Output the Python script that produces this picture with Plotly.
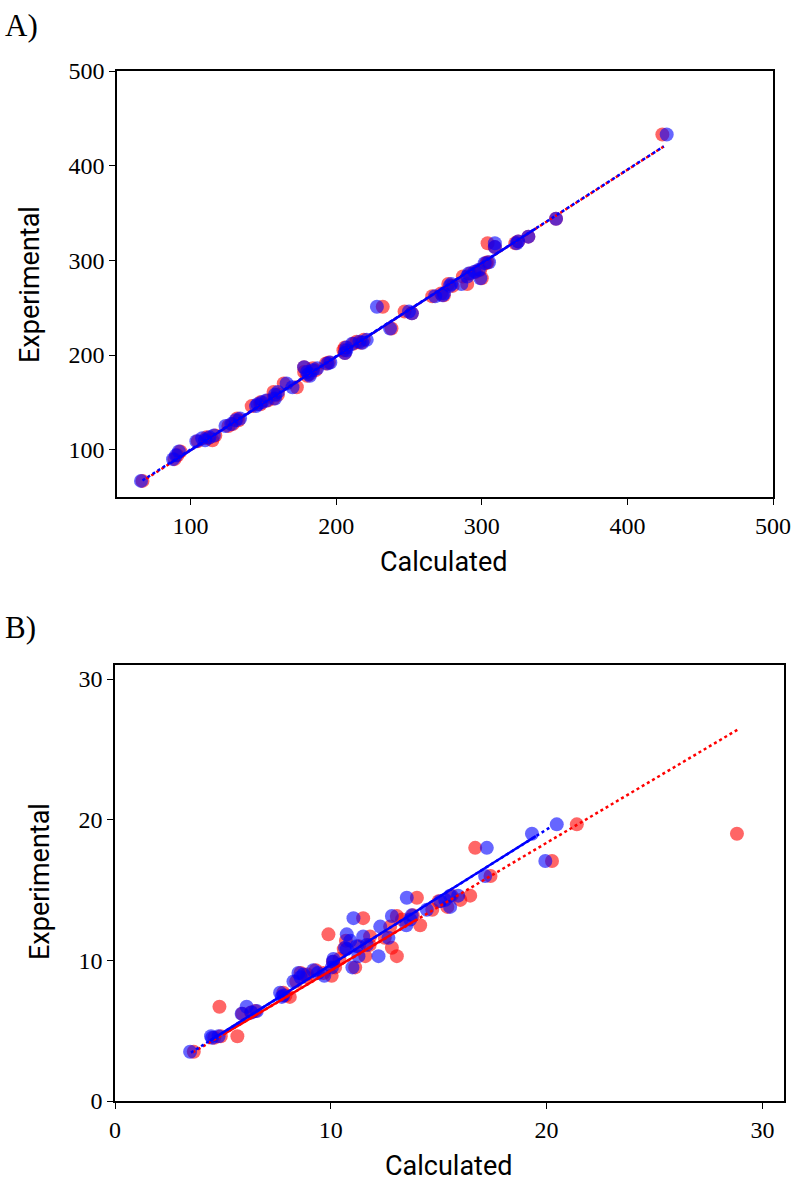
import plotly.graph_objects as go

# ---------------- Panel A data ----------------
a_exp = [67, 90, 94, 98, 109, 110, 112, 113, 115, 125, 127, 131, 133, 146, 148, 150, 152, 154, 161, 158,
         170, 166, 187, 182, 180, 178, 184, 186, 191, 192, 202, 205, 208, 212, 214, 213, 216, 251, 228, 246,
         244, 262, 263, 265, 275, 273, 275, 283, 286, 288, 281, 290, 297, 298, 318, 314, 318, 320, 325, 344, 433]
a_red = [67, 89, 91, 93, 105, 115, 112, 111, 117, 126, 129, 133, 132, 142, 148, 148, 153, 157, 157, 160,
         164, 173, 178, 178, 182, 180, 186, 184, 193, 195, 206, 205, 206, 212, 214, 217, 219, 232, 238, 247,
         252, 266, 274, 272, 277, 280, 290, 287, 292, 296, 300, 299, 303, 304, 304, 309, 323, 325, 332, 351, 424]
a_blue = [66, 88, 90, 92, 104, 110, 108, 113, 116, 124, 128, 131, 134, 145, 146, 149, 152, 158, 160, 158,
          166, 170, 178, 180, 181, 182, 184, 187, 194, 196, 206, 207, 207, 211, 216, 218, 221, 228, 237, 250,
          252, 268, 273, 274, 279, 278, 286, 290, 291, 295, 299, 298, 302, 305, 309, 309, 324, 325, 332, 351, 427]

# fit-line segments (endpoints)
a_red_dot_x = [69.6, 425.3]
a_red_dot_y = [69.3, 420.6]
a_blue_dot_x = [67.0, 425.0]
a_blue_dot_y = [67.5, 420.4]
a_blue_solid_x = [86.0, 337.0]
a_blue_solid_y = [85.5, 333.5]

# ---------------- Panel B data ----------------
b_exp = [3.5, 4.5, 4.6, 6.7, 4.6, 6.2, 6.4, 6.3, 7.7, 7.4, 7.5, 8.5, 9.1, 9.0, 8.8, 9.3, 9.1, 9.9, 9.5, 8.9,
         11.85, 10.8, 11.4, 13.0, 10.9, 11.0, 11.1, 11.7, 10.3, 9.5, 10.1, 10.3, 11.6, 12.4, 13.15, 12.9, 12.5,
         13.6, 13.2, 14.45, 14.2, 14.6, 13.8, 14.3, 14.6, 18.0, 16.0, 19.0, 17.06, 19.67]
b_red = [3.65, 4.6, 4.9, 4.84, 5.67, 5.9, 6.5, 6.3, 7.8, 8.1, 7.9, 8.4, 8.6, 8.9, 8.9, 9.3, 9.66, 10.1, 10.2, 10.04,
         9.89, 10.6, 10.7, 11.5, 12.83, 11.3, 11.8, 11.82, 13.06, 11.13, 10.4, 11.6, 12.5, 12.75, 13.06, 13.3, 14.14,
         14.7, 13.8, 13.99, 15.0, 15.6, 15.4, 16.0, 16.46, 16.69, 17.4, 28.82, 20.25, 21.4]
b_blue = [3.48, 4.5, 4.8, 6.1, 4.45, 5.87, 6.57, 6.33, 7.65, 7.73, 7.8, 8.27, 8.5, 8.73, 8.6, 9.19, 9.4, 10.1, 10.05, 9.7,
          10.74, 10.74, 10.9, 11.05, 10.66, 11.2, 11.67, 11.5, 12.21, 11.0, 10.12, 11.28, 12.67, 12.29, 12.83, 13.68, 13.5,
          14.45, 13.75, 13.52, 15.07, 15.53, 15.53, 15.3, 15.9, 17.23, 17.15, 19.32, 19.94, 20.47]

b_red_dot_x = [3.6, 28.87]
b_red_dot_y = [3.45, 26.42]
b_red_solid_x = [5.0, 14.0]
b_red_solid_y = [4.72, 12.92]
b_blue_dot_x = [3.52, 20.13]
b_blue_dot_y = [3.44, 19.43]
b_blue_solid_x = [4.4, 19.5]
b_blue_solid_y = [4.29, 18.83]

a_ticks = [100, 200, 300, 400, 500]
b_ticks = [0, 10, 20, 30]

RED = "#ff0000"
BLUE = "#0000ff"
MS = 14
OP = 0.6

fig = go.Figure()


def scatter(x, y, color, xa, ya):
    fig.add_trace(go.Scatter(x=x, y=y, mode="markers", xaxis=xa, yaxis=ya,
                             marker=dict(color=color, size=MS, opacity=OP, line=dict(width=0)),
                             showlegend=False, hoverinfo="skip"))


def line(x, y, color, dash, xa, ya):
    fig.add_trace(go.Scatter(x=x, y=y, mode="lines", xaxis=xa, yaxis=ya,
                             line=dict(color=color, width=2.5, dash=dash),
                             showlegend=False, hoverinfo="skip"))


DOT = "3px,3px"

# Panel A
scatter(a_red, a_exp, RED, "x", "y")
scatter(a_blue, a_exp, BLUE, "x", "y")
line(a_red_dot_x, a_red_dot_y, RED, DOT, "x", "y")
line(a_blue_dot_x, a_blue_dot_y, BLUE, DOT, "x", "y")
line(a_blue_solid_x, a_blue_solid_y, BLUE, "solid", "x", "y")

# Panel B
scatter(b_red, b_exp, RED, "x2", "y2")
scatter(b_blue, b_exp, BLUE, "x2", "y2")
line(b_red_dot_x, b_red_dot_y, RED, DOT, "x2", "y2")
line(b_red_solid_x, b_red_solid_y, RED, "solid", "x2", "y2")
line(b_blue_dot_x, b_blue_dot_y, BLUE, DOT, "x2", "y2")
line(b_blue_solid_x, b_blue_solid_y, BLUE, "solid", "x2", "y2")

W, H = 798, 1196
TICKFONT = dict(family="Liberation Serif, DejaVu Serif, serif", size=24, color="black")
ax_common = dict(showgrid=False, zeroline=False, showline=True, linecolor="black", linewidth=1.5,
                 mirror=True, ticks="outside", ticklen=6, tickwidth=1.3, tickcolor="black",
                 tickfont=TICKFONT, automargin=False)

fig.update_layout(
    width=W, height=H,
    margin=dict(l=0, r=0, t=0, b=0),
    paper_bgcolor="white", plot_bgcolor="white",
    xaxis=dict(domain=[117 / W, 773 / W], range=[49.5, 500], tickvals=a_ticks, anchor="y", **ax_common),
    yaxis=dict(domain=[1 - 497 / H, 1 - 71 / H], range=[50, 500], tickvals=a_ticks, anchor="x", **ax_common),
    xaxis2=dict(domain=[115 / W, 784 / W], range=[0, 31], tickvals=b_ticks, anchor="y2", **ax_common),
    yaxis2=dict(domain=[1 - 1101 / H, 1 - 665 / H], range=[0, 31], tickvals=b_ticks, anchor="x2", **ax_common),
)

SANS = dict(family="Roboto, Lato, sans-serif", size=27, color="black")
SERIF_LBL = dict(family="Liberation Serif, DejaVu Serif, serif", size=31, color="black")


def ann(text, x, y, font, angle=0, xanchor="center"):
    fig.add_annotation(text=text, x=x / W, y=1 - y / H, xref="paper", yref="paper",
                       showarrow=False, font=font, textangle=angle, xanchor=xanchor, yanchor="middle")


ann("Calculated", 443, 562, SANS)
ann("Experimental", 30, 285, SANS, angle=-90)
ann("Calculated", 448, 1166, SANS)
ann("Experimental", 40, 882, SANS, angle=-90)
ann("A)", 3, 26, SERIF_LBL, xanchor="left")
ann("B)", 3, 627, SERIF_LBL, xanchor="left")

fig.write_html("out.html",
               config={"displayModeBar": False},
               post_script="document.body.style.margin='0';document.body.style.overflow='hidden';")
